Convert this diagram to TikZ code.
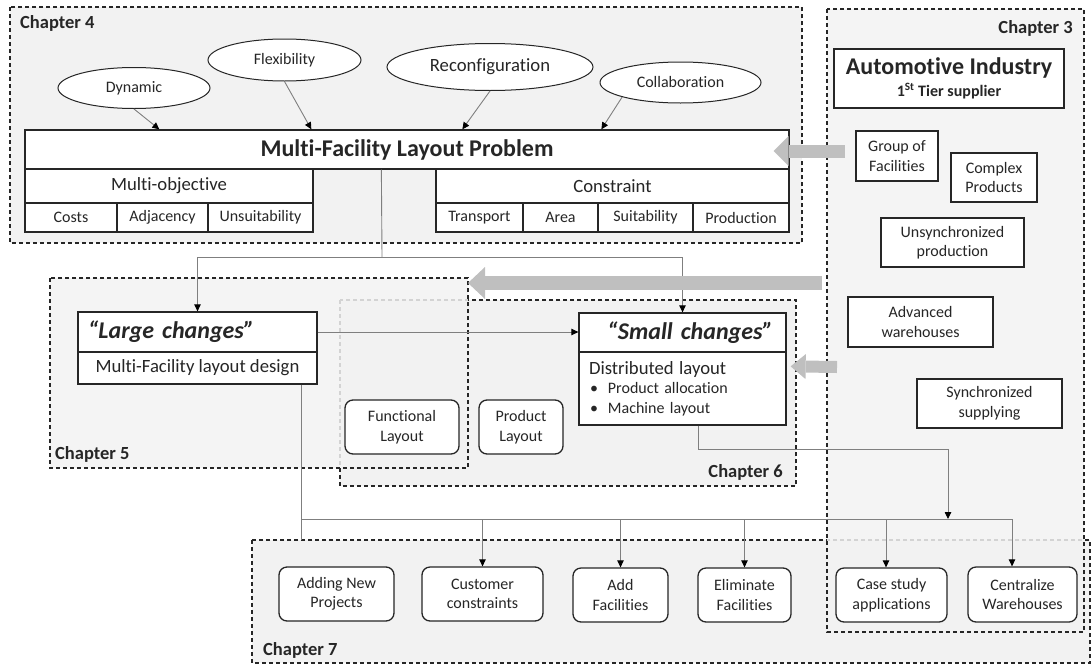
\documentclass[tikz,border=0pt]{standalone}
\usepackage{fontspec}
\setmainfont{Carlito}[Ligatures={NoCommon}]
\usetikzlibrary{arrows.meta,shapes.geometric,calc}
\definecolor{panel}{HTML}{F2F2F2}
\definecolor{flow}{HTML}{BFBFBF}
\definecolor{wiregray}{HTML}{7F7F7F}
\definecolor{ink}{HTML}{262626}
\newcommand{\fsS}{\fontsize{16}{19.5}\selectfont}
\newcommand{\fsM}{\fontsize{18.7}{22}\selectfont}
\newcommand{\fsL}{\fontsize{24}{28}\selectfont}
\newcommand{\fsC}{\fontsize{18.5}{22}\selectfont}

\begin{document}
\begin{tikzpicture}[x=1pt,y=-1pt,
  box/.style={draw=ink, line width=1.3pt, fill=white, inner sep=0pt, align=center, font=\fsS, text=ink},
  rbox/.style={box, rounded corners=8pt},
  oval/.style={ellipse, draw=ink, line width=1pt, fill=white, inner sep=0pt, font=\fsS, text=ink},
  frame/.style={draw=ink, line width=1.1pt, dash pattern=on 4pt off 3pt, fill=panel},
  chap/.style={inner sep=0pt, font=\fsC\bfseries, text=ink},
  wire/.style={draw=wiregray, line width=0.9pt},
  wirearrow/.style={wire, -{Triangle[length=7pt,width=6.5pt,color=black]}},
  bigflow/.style={draw=flow, line cap=butt}
]
\useasboundingbox (0,0) rectangle (1091,664);

% ---------- chapter panels ----------
\draw[frame] (252,540) rectangle (1090,663);
\draw[frame, fill opacity=0.85] (827,9) rectangle (1084,632);
\draw[frame] (10,7) rectangle (802,243);
\draw[frame] (340,300) rectangle (796,486);
\draw[frame, fill opacity=0.85] (50,278) rectangle (468,468);

\node[chap, anchor=base west] (c4) at (20,28) {Chapter 4};
\node[chap, anchor=base east] (c3) at (1073,33) {Chapter 3};
\node[chap, anchor=base west] (c5) at (55,459) {Chapter 5};
\node[chap, anchor=base east] (c6) at (783,477) {Chapter 6};
\node[chap, anchor=base west] (c7) at (263,655) {Chapter 7};

% ---------- chapter 4: problem definition ----------
\node[oval, minimum width=152pt, minimum height=41pt] (dyn) at (134,88) {Dynamic};
\node[oval, minimum width=153pt, minimum height=42pt] (flex) at (284.5,60) {Flexibility};
\node[oval, minimum width=206pt, minimum height=47pt, font=\fsM] (reconf) at (490,67) {Reconfiguration};
\node[oval, minimum width=161pt, minimum height=41pt] (collab) at (680.5,82.5) {Collaboration};

\node[box, minimum width=764pt, minimum height=39pt, font=\fsL\bfseries] (mflp) at (407,149.5) {Multi-Facility Layout Problem};

\node[box, minimum width=288pt, minimum height=34pt, font=\fsM] (mobj) at (169,186) {Multi-objective};
\node[box, minimum width=92pt, minimum height=29pt] (costs) at (71,217.5) {Costs};
\node[box, minimum width=91pt, minimum height=29pt] (adj) at (162.5,217.5) {Adjacency};
\node[box, minimum width=105pt, minimum height=29pt] (unsuit) at (260.5,217.5) {Unsuitability};

\node[box, minimum width=353pt, minimum height=34pt, font=\fsM] (cons) at (612.5,186) {Constraint};
\node[box, minimum width=87pt, minimum height=29pt] (transp) at (479.5,217.5) {Transport};
\node[box, minimum width=75pt, minimum height=29pt] (area) at (560.5,217.5) {Area};
\node[box, minimum width=95pt, minimum height=29pt] (suit) at (645.5,217.5) {Suitability};
\node[box, minimum width=96pt, minimum height=29pt] (prod) at (741,217.5) {Production};

\draw[wirearrow] (dyn.south) -- ($(mflp.north west)+(135,0)$);
\draw[wirearrow] (flex.south) -- ($(mflp.north west)+(287,0)$);
\draw[wirearrow] (reconf.south) -- ($(mflp.north west)+(438,0)$);
\draw[wirearrow] (collab.194) -- ($(mflp.north west)+(577,0)$);

% ---------- chapter 3: industrial context ----------
\node[box, minimum width=230pt, minimum height=59pt] (auto) at (949,78.5)
  {{\fsL\bfseries Automotive Industry}\\[2pt]{\bfseries 1\textsuperscript{St} Tier supplier}};
\node[box, minimum width=82pt, minimum height=50pt] (grp) at (897,156) {Group of\\Facilities};
\node[box, minimum width=86pt, minimum height=49pt] (cplx) at (994,177.5) {Complex\\Products};
\node[box, minimum width=143pt, minimum height=49pt] (unsync) at (952.5,242.5) {Unsynchronized\\production};
\node[box, minimum width=145pt, minimum height=50pt] (adv) at (920.5,322) {Advanced\\warehouses};
\node[box, minimum width=145pt, minimum height=49pt] (sync) at (989.5,403.5) {Synchronized\\supplying};

% ---------- chapters 5 and 6: layout levels ----------
\node[box, minimum height=40pt, text width=219pt, inner xsep=10pt, align=left, font=\fsL\bfseries\itshape] (large) at (197.5,332) {“Large changes”};
\node[box, minimum width=239pt, minimum height=32pt, font=\fsM] (largeb) at (197.5,368) {Multi-Facility layout design};

\node[box, minimum height=39pt, text width=181pt, inner xsep=13pt, align=right, font=\fsL\bfseries\itshape] (small) at (682.5,332.5) {“Small changes”};
\node[box, minimum height=73pt, text width=187pt, inner xsep=10pt, align=left] (smallb) at (682.5,388.5)
  {{\fsM Distributed layout}\\[0pt]
   \hspace*{1pt}\textbullet\hspace{10pt}Product allocation\\
   \hspace*{1pt}\textbullet\hspace{10pt}Machine layout};

\node[rbox, minimum width=114pt, minimum height=54pt] (func) at (402,427) {Functional\\Layout};
\node[rbox, minimum width=84pt, minimum height=54pt] (plo) at (521,427) {Product\\Layout};

\coordinate (split) at (382,257);
\draw[wire] ($(mflp.south west)+(357,0)$) -- (split);
\draw[wirearrow] (split) -| (large.north);
\draw[wirearrow] (split) -| (small.north);
\draw[wirearrow] (large.east) -- (small.west |- large.east);

% ---------- chapter 7: applications ----------
\node[rbox, minimum width=115pt, minimum height=54pt] (anp) at (336.5,594) {Adding New\\Projects};
\node[rbox, minimum width=121pt, minimum height=54pt] (cust) at (482.5,594) {Customer\\constraints};
\node[rbox, minimum width=95pt, minimum height=54pt] (addf) at (620.5,595) {Add\\Facilities};
\node[rbox, minimum width=93pt, minimum height=54pt] (elim) at (744.5,595) {Eliminate\\Facilities};
\node[rbox, minimum width=111pt, minimum height=54pt] (cases) at (891.5,595) {Case study\\applications};
\node[rbox, minimum width=109pt, minimum height=55pt] (cent) at (1022.5,594.5) {Centralize\\Warehouses};

\coordinate (busL) at (301,519);
\coordinate (busR) at (1012,519);
\coordinate (ch7top) at (301,540);
\coordinate (caseIn) at ($(cases.north)+(-5.5,0)$);
\coordinate (sOut) at ($(smallb.south)+(15.5,0)$);
\coordinate (sTurn) at (948,449);

\draw[wire] (largeb.south -| ch7top) -- (ch7top);
\draw[wire] (busL) -- (busR);
\draw[wirearrow] (cust.north |- busL) -- (cust.north);
\draw[wirearrow] (addf.north |- busL) -- (addf.north);
\draw[wirearrow] (elim.north |- busL) -- (elim.north);
\draw[wirearrow] (caseIn |- busL) -- (caseIn);
\draw[wirearrow] (busR) -- (busR |- cent.north);
\draw[wirearrow] (sOut) |- (sTurn) -- (sTurn |- busL);

% ---------- broad flows from the industrial context ----------
\coordinate (f1tail) at (845,151);
\coordinate (f1tip) at ($(mflp.east)+(-16,1.5)$);
\coordinate (f2tail) at (822,283);
\coordinate (f2tip) at (468,283);
\coordinate (f3tail) at (837,367);
\coordinate (f3tip) at ($(smallb.north east)+(4,15)$);
\draw[bigflow, line width=13pt, -{Triangle[length=15pt,width=30pt,line width=0pt,color=flow]}] (f1tail) -- (f1tip);
\draw[bigflow, line width=14pt, -{Triangle[length=17pt,width=32pt,line width=0pt,color=flow]}] (f2tail) -- (f2tip);
\draw[bigflow, line width=12pt, -{Triangle[length=15pt,width=25pt,line width=0pt,color=flow]}] (f3tail) -- (f3tip);
\end{tikzpicture}
\end{document}
